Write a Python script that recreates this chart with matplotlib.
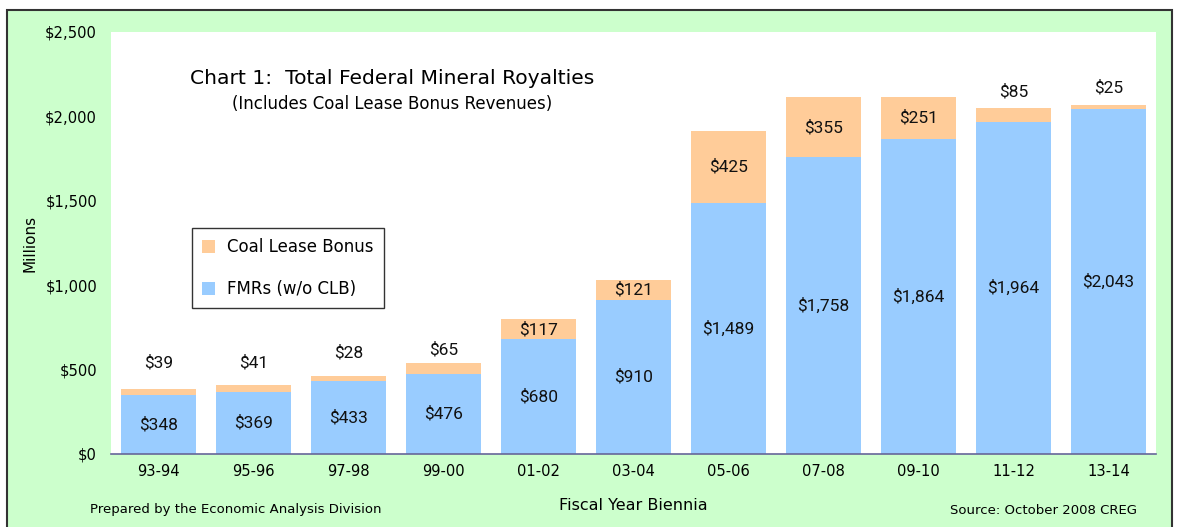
import matplotlib
matplotlib.use("Agg")
import matplotlib.pyplot as plt
from matplotlib.patches import Rectangle
from matplotlib.ticker import FuncFormatter

categories = ["93-94", "95-96", "97-98", "99-00", "01-02", "03-04",
              "05-06", "07-08", "09-10", "11-12", "13-14"]
fmr = [348, 369, 433, 476, 680, 910, 1489, 1758, 1864, 1964, 2043]
clb = [39, 41, 28, 65, 117, 121, 425, 355, 251, 85, 25]
# label placement: True -> inside the coal segment, False -> above bar
clb_inside = [False, False, False, False, True, True, True, True, True, False, False]
clb_above_offset = [13, 10, 11, 3.5, 0, 0, 0, 0, 0, 6, 6.5]  # points

plt.rcParams['font.family'] = ['DejaVu Sans']
label_font = ['Roboto', 'DejaVu Sans']

W, H = 1177, 527
fig = plt.figure(figsize=(W / 100, H / 100), dpi=100)
fig.patch.set_facecolor("white")

# outer green panel with border
panel = Rectangle((7 / W, -0.05), (1172 - 7) / W, 1 - 10 / H + 0.05,
                  transform=fig.transFigure, facecolor="#CCFFCC",
                  edgecolor="#333333", linewidth=1.5, zorder=-5)
fig.patches.append(panel)

ax = fig.add_axes([111 / W, 1 - 454 / H, (1156 - 111) / W, (454 - 32) / H])
ax.set_zorder(1)
ax.set_facecolor("white")

blue = "#99CCFF"
orange = "#FFCC99"
x = list(range(len(categories)))
totals = [a + b for a, b in zip(fmr, clb)]

ax.bar(x, fmr, width=0.78, color=blue, label="FMRs (w/o CLB)", zorder=2)
ax.bar(x, clb, width=0.78, bottom=fmr, color=orange, label="Coal Lease Bonus", zorder=2)

ax.set_xlim(-0.5, len(categories) - 0.5)
ax.set_ylim(0, 2500)
ax.set_yticks(range(0, 2501, 500))
ax.yaxis.set_major_formatter(FuncFormatter(lambda v, p: f"${v:,.0f}"))
ax.set_xticks(x)
ax.set_xticklabels(categories)
ax.tick_params(axis="both", length=0, labelsize=10.6, colors="black")
ax.tick_params(axis="x", pad=7)
ax.tick_params(axis="y", pad=10)
for s in ["top", "right", "left"]:
    ax.spines[s].set_visible(False)
ax.spines["bottom"].set_color("#666699")
ax.spines["bottom"].set_linewidth(1.2)

for i in x:
    ax.text(i, fmr[i] / 2, f"${fmr[i]:,}", ha="center", va="center",
            fontsize=12.5, family=label_font, zorder=3, color="#111111")
    if clb_inside[i]:
        ax.text(i, fmr[i] + clb[i] / 2, f"${clb[i]:,}", ha="center",
                va="center", fontsize=12.5, family=label_font, zorder=3, color="#111111")
    else:
        ax.annotate(f"${clb[i]:,}", (i, totals[i]), xytext=(0, clb_above_offset[i]),
                    textcoords="offset points", ha="center", va="bottom",
                    fontsize=12.5, family=label_font, zorder=3, color="#111111")

ax.set_ylabel("Millions", fontsize=11)
ax.yaxis.set_label_coords(-0.07, 0.5)
ax.set_xlabel("Fiscal Year Biennia", fontsize=11.5, labelpad=14)

fig.text(392 / W, 1 - 78 / H, "Chart 1:  Total Federal Mineral Royalties",
         ha="center", va="center", fontsize=14.6)
fig.text(392 / W, 1 - 104 / H, "(Includes Coal Lease Bonus Revenues)",
         ha="center", va="center", fontsize=12)
fig.text(90 / W, 1 - 510 / H, "Prepared by the Economic Analysis Division",
         ha="left", va="center", fontsize=9.5)
fig.text(1137 / W, 1 - 510 / H, "Source: October 2008 CREG",
         ha="right", va="center", fontsize=9.5)

handles, labels = ax.get_legend_handles_labels()
leg = ax.legend(handles[::-1], labels[::-1], loc="upper left",
                bbox_to_anchor=((192 - 111) / (1156 - 111), (454 - 228) / (454 - 32)),
                fontsize=12, frameon=True, fancybox=False, edgecolor="black",
                handlelength=0.8, handleheight=0.8, handletextpad=0.7,
                labelspacing=1.45, borderpad=0.6, borderaxespad=0)
leg.get_frame().set_linewidth(1.0)

fig.savefig("out.png", dpi=100, facecolor=fig.get_facecolor())
